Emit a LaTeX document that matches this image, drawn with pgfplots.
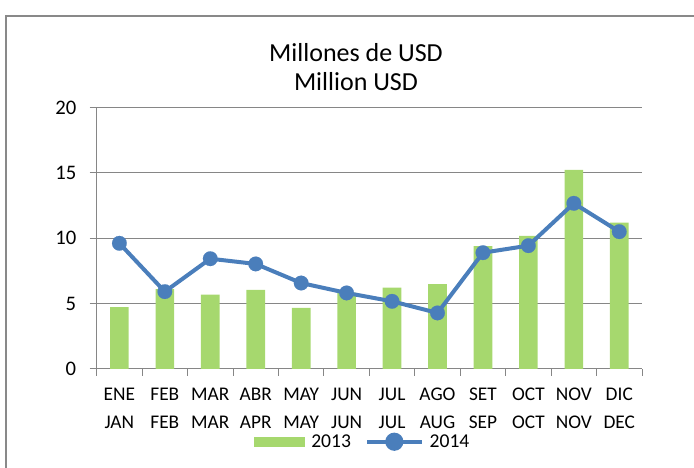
\documentclass[border=0pt]{standalone}
\usepackage{fontspec}
\setmainfont{Carlito}
\usepackage{pgfplots}
\pgfplotsset{compat=1.18}
\definecolor{barg}{RGB}{166,216,110}
\definecolor{lineb}{RGB}{74,126,187}
\definecolor{axg}{RGB}{134,134,134}
\definecolor{frameg}{RGB}{137,137,137}
\begin{document}
\begin{tikzpicture}
\useasboundingbox (0,0) rectangle (520.5pt,351pt);
\draw[frameg, line width=1.5pt] (4.5pt,-10pt) -- (4.5pt,339.2pt) -- (540pt,339.2pt);
\node[anchor=base, inner sep=0pt, font=\fontsize{19.5}{23}\selectfont] at (267pt,305pt) {Millones de USD};
\node[anchor=base, inner sep=0pt, font=\fontsize{19.5}{23}\selectfont] at (267pt,283pt) {Million USD};
\begin{axis}[
  at={(72.5pt,74.25pt)}, anchor=south west,
  scale only axis, width=409pt, height=196pt,
  xmin=-0.5, xmax=11.5, ymin=0, ymax=20,
  axis lines*=left,
  axis line style={axg, line width=0.75pt},
  ytick={0,5,...,20},
  xtick={0,...,11},
  xticklabels={ENE\\JAN, FEB\\FEB, MAR\\MAR, ABR\\APR, MAY\\MAY, JUN\\JUN, JUL\\JUL, AGO\\AUG, SET\\SEP, OCT\\OCT, NOV\\NOV, DIC\\DEC},
  x tick label style={align=center, font=\fontsize{14.5}{21}\selectfont, yshift=-5.5pt},
  y tick label style={font=\fontsize{15.5}{18}\selectfont, xshift=-6.5pt},
  /pgf/number format/assume math mode=true,
  tick align=outside,
  major tick length=5.3pt,
  minor tick length=5pt,
  minor xtick={-0.5,0.5,...,11.5},
  major x tick style={draw=none},
  minor x tick style={draw=axg, line width=0.75pt},
  major y tick style={draw=axg, line width=0.75pt},
  ymajorgrids,
  major grid style={axg, line width=0.75pt},
  legend columns=2,
  legend style={draw=none, fill=none, at={(0.2873,-0.2783)}, anchor=west, inner sep=0pt,
    font=\fontsize{14.7}{16}\selectfont,
    nodes={inner sep=0pt},
    /tikz/every odd column/.style={column sep=4.5pt},
    /tikz/every even column/.style={column sep=10.5pt}},
]
\addplot[ybar, bar width=14pt, fill=barg, draw=none,
  legend image code/.code={\fill[barg] (0pt,-3.75pt) rectangle (38.75pt,3.75pt);}]
  coordinates {(0,4.74) (1,6.12) (2,5.69) (3,6.05) (4,4.67) (5,5.85) (6,6.22) (7,6.5) (8,9.41) (9,10.18) (10,15.23) (11,11.2)};
\addlegendentry{2013}
\addplot[lineb, line width=3pt, mark=*, mark size=5.5pt, mark options={fill=lineb, draw=lineb, line width=0.1pt},
  legend image code/.code={\draw[lineb, line width=3pt] (0pt,0pt) -- (41pt,0pt); \fill[lineb] (20.5pt,0pt) circle (5.3pt);}]
  coordinates {(0,9.62) (1,5.92) (2,8.44) (3,8.04) (4,6.58) (5,5.82) (6,5.18) (7,4.29) (8,8.9) (9,9.44) (10,12.68) (11,10.51)};
\addlegendentry{2014}
\end{axis}
\end{tikzpicture}
\end{document}
